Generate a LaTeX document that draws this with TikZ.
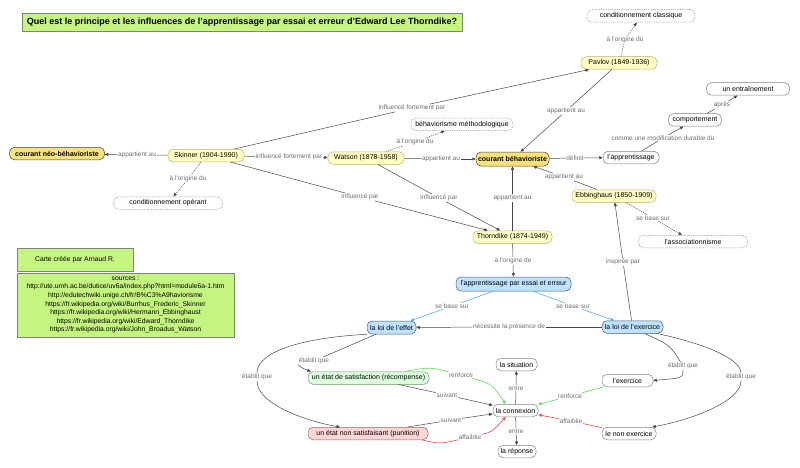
\documentclass[tikz,border=0pt]{standalone}
\usepackage{fontspec}
\setmainfont{Liberation Sans}
\usetikzlibrary{arrows.meta}
\definecolor{titleG}{RGB}{196,245,128}
\definecolor{persY}{RGB}{255,255,196}
\definecolor{persB}{RGB}{185,175,120}
\definecolor{courY}{RGB}{250,226,122}
\definecolor{blueF}{RGB}{190,226,255}
\definecolor{blueB}{RGB}{70,90,110}
\definecolor{greenF}{RGB}{224,255,224}
\definecolor{pinkF}{RGB}{255,214,214}
\definecolor{linkC}{RGB}{70,70,70}
\definecolor{lblC}{RGB}{110,110,110}
\definecolor{blueL}{RGB}{80,175,250}
\definecolor{greenL}{RGB}{90,220,90}
\definecolor{redL}{RGB}{240,70,70}
\tikzset{
  base/.style={draw=gray, rounded corners=5pt, font=\fontsize{7}{8}\selectfont,
    inner xsep=2pt, inner ysep=1pt, minimum height=12.5pt, text=black, line width=0.5pt},
  person/.style={base, fill=persY, draw=persB},
  courant/.style={base, fill=courY, draw=black!75, font=\fontsize{7}{8}\selectfont\bfseries},
  concept/.style={base, fill=white, draw=gray},
  dotbox/.style={base, fill=white, draw=gray, dash pattern=on 0.8pt off 1pt},
  bluebox/.style={base, fill=blueF, draw=blueB},
  greenbox/.style={base, fill=greenF, draw=gray!80!green},
  pinkbox/.style={base, fill=pinkF, draw=gray!80!red},
  infobox/.style={draw=gray, fill=titleG, font=\fontsize{6.8}{8.6}\selectfont, align=center, inner sep=1pt},
  lbl/.style={font=\fontsize{6.5}{7}\selectfont, text=lblC, fill=white, inner sep=0.6pt},
  link/.style={draw=linkC, line width=0.5pt},
  arr/.style={link, -{Triangle[width=3pt,length=3.5pt]}},
  dlink/.style={link, dash pattern=on 1pt off 1pt},
  darr/.style={arr, dash pattern=on 1pt off 1pt},
  blink/.style={draw=blueL, line width=0.6pt},
  barr/.style={blink, -{Triangle[width=3pt,length=3.5pt]}},
  glink/.style={draw=greenL, line width=0.6pt},
  garr/.style={glink, -{Triangle[width=3pt,length=3.5pt]}},
  rlink/.style={draw=redL, line width=0.6pt},
  rarr/.style={rlink, -{Triangle[width=3pt,length=3.5pt]}},
}
\begin{document}
\begin{tikzpicture}[x=1pt,y=-1pt]
\useasboundingbox (0,0) rectangle (800,468);
% title and info boxes
\node[infobox, font=\fontsize{9}{10}\selectfont\bfseries, minimum width=440pt, minimum height=18pt] (title) at (242,22)
  {Quel est le principe et les influences de l'apprentissage par essai et erreur d'Edward Lee Thorndike?};
\node[infobox, minimum width=116pt, minimum height=23pt] (carte) at (75,260) {Carte créée par Arnaud R.};
\node[infobox, minimum width=217pt, minimum height=64pt] (sources) at (125.5,305) {sources :\\
http://ute.umh.ac.be/dutice/uv6a/index.php?html=module6a-1.htm\\
http://edutechwiki.unige.ch/fr/B\%C3\%A9haviorisme\\
https://fr.wikipedia.org/wiki/Burrhus\_Frederic\_Skinner\\
https://fr.wikipedia.org/wiki/Hermann\_Ebbinghaust\\
https://fr.wikipedia.org/wiki/Edward\_Thorndike\\
https://fr.wikipedia.org/wiki/John\_Broadus\_Watson};
% concept nodes
\node[dotbox, minimum width=108pt] (condclass) at (641,16) {conditionnement classique};
\node[person, minimum width=76pt] (pavlov) at (619,63) {Pavlov (1849-1936)};
\node[concept, minimum width=83pt] (entrain) at (748,89) {un entraînement};
\node[concept, minimum width=53pt] (comport) at (695,120) {comportement};
\node[concept, minimum width=56pt] (apprent) at (631,157.5) {l'apprentissage};
\node[person, minimum width=84pt] (ebbing) at (614,196) {Ebbinghaus (1850-1909)};
\node[dotbox, minimum width=109pt] (assoc) at (693,241.5) {l'associationnisme};
\node[courant, minimum width=95pt] (neo) at (57,153.5) {courant néo-béhavioriste};
\node[person, minimum width=76pt] (skinner) at (206,155.5) {Skinner (1904-1990)};
\node[dotbox, minimum width=109pt] (condop) at (168,203) {conditionnement opérant};
\node[dotbox, minimum width=102pt] (behmeth) at (462,124.5) {béhaviorisme méthodologique};
\node[person, minimum width=76pt] (watson) at (366,158) {Watson (1878-1958)};
\node[courant, minimum width=73pt, minimum height=14pt] (courbeh) at (512.5,159) {courant béhavioriste};
\node[person, minimum width=79pt] (thorn) at (512.5,237) {Thorndike (1874-1949)};
\node[bluebox, minimum width=115pt, minimum height=14pt] (essai) at (513.5,284) {l'apprentissage par essai et erreur};
\node[bluebox, minimum width=49pt, minimum height=13pt] (effet) at (391.5,327.5) {la loi de l'effet};
\node[bluebox, minimum width=61pt] (exerc) at (632.5,327) {la loi de l'exercice};
\node[concept, minimum width=51pt] (lexerc) at (627.5,380.5) {l'exercice};
\node[concept, minimum width=54pt] (nonexerc) at (629,433.5) {le non exercice};
\node[greenbox, minimum width=121pt] (satisf) at (368.5,378) {un état de satisfaction (récompense)};
\node[concept, minimum width=41pt] (situation) at (516.5,364.5) {la situation};
\node[concept, minimum width=45pt] (connexion) at (515.5,410.5) {la connexion};
\node[pinkbox, minimum width=120pt] (nonsatisf) at (368,433.5) {un état non satisfaisant (punition)};
\node[concept, minimum width=38pt] (reponse) at (517,451.5) {la réponse};
% linking phrases
\node[lbl] (l1) at (625,40) {à l'origine du};
\node[lbl] (l2) at (412,108) {influencé fortement par};
\node[lbl] (l3) at (566,111) {appartient au};
\node[lbl] (l4) at (722,105) {après};
\node[lbl] (l5) at (663,138) {comme une modification durable du};
\node[lbl] (l6) at (575,158) {définit};
\node[lbl] (l7) at (564,177) {appartient au};
\node[lbl] (l8) at (653,218) {se base sur};
\node[lbl] (l9) at (137,155) {appartient au};
\node[lbl] (l10) at (188,179) {à l'origine du};
\node[lbl] (l11) at (289,157) {influencé fortement par};
\node[lbl] (l12) at (415,142) {à l'origine du};
\node[lbl] (l13) at (441,159) {appartient au};
\node[lbl] (l14) at (360,197) {influencé par};
\node[lbl] (l15) at (439,198) {influencé par};
\node[lbl] (l16) at (512.5,198) {appartient au};
\node[lbl] (l17) at (513,261) {à l'origine de};
\node[lbl] (l18) at (452,306) {se base sur};
\node[lbl] (l19) at (573,306) {se base sur};
\node[lbl] (l20) at (509,327) {nécessite la présence de};
\node[lbl] (l21) at (623,262) {inspirée par};
\node[lbl] (l22) at (314,361) {établit que};
\node[lbl] (l23) at (257,377) {établit que};
\node[lbl] (l24) at (447,395) {suivant};
\node[lbl] (l25) at (451,420) {suivant};
\node[lbl] (l26) at (461,375) {renforce};
\node[lbl] (l27) at (470,437) {affaiblie};
\node[lbl] (l28) at (570,396) {renforce};
\node[lbl] (l29) at (571,421) {affaiblie};
\node[lbl] (l30) at (516,388) {entre};
\node[lbl] (l31) at (516,431) {entre};
\node[lbl] (l32) at (683,366) {établit que};
\node[lbl] (l33) at (741,377) {établit que};
% connectors
\draw[dlink] (pavlov) -- (l1); \draw[darr] (l1) -- (condclass);
\draw[link] (skinner) -- (l2); \draw[arr] (l2) -- (pavlov);
\draw[link] (pavlov) -- (l3); \draw[arr] (l3) -- (courbeh);
\draw[link] (comport) -- (l4); \draw[arr] (l4) -- (entrain);
\draw[link] (apprent) -- (l5); \draw[arr] (l5) -- (comport);
\draw[link] (courbeh) -- (l6); \draw[arr] (l6) -- (apprent);
\draw[link] (ebbing) -- (l7); \draw[arr] (l7) -- (courbeh);
\draw[dlink] (ebbing) -- (l8); \draw[darr] (l8) -- (assoc);
\draw[link] (skinner) -- (l9); \draw[arr] (l9) -- (neo);
\draw[dlink] (skinner) -- (l10); \draw[darr] (l10) -- (condop);
\draw[link] (skinner) -- (l11); \draw[arr] (l11) -- (watson);
\draw[dlink] (watson) -- (l12); \draw[darr] (l12) -- (behmeth);
\draw[link] (watson) -- (l13); \draw[arr] (l13) -- (courbeh);
\draw[link] (skinner) -- (l14); \draw[arr] (l14) -- (thorn);
\draw[link] (watson) -- (l15); \draw[arr] (l15) -- (thorn);
\draw[link] (thorn) -- (l16); \draw[arr] (l16) -- (courbeh);
\draw[link] (thorn) -- (l17); \draw[arr] (l17) -- (essai);
\draw[blink] (essai) -- (l18); \draw[barr] (l18) -- (effet);
\draw[blink] (essai) -- (l19); \draw[barr] (l19) -- (exerc);
\draw[link] (exerc) -- (l20); \draw[arr] (l20) -- (effet);
\draw[link] (exerc) -- (l21); \draw[arr] (l21) -- (ebbing);
\draw[link] (effet) -- (l22); \draw[arr] (l22.south west) .. controls (302,368) .. ([xshift=3pt]satisf.north west);
\draw[link] (effet.south west) .. controls (300,338) and (257,352) .. (l23);
\draw[arr] (l23) .. controls (257,405) and (310,422) .. ([xshift=-28pt]nonsatisf.north);
\draw[link] (satisf) -- (l24); \draw[arr] (l24) -- (connexion);
\draw[link] (nonsatisf) -- (l25); \draw[arr] (l25) -- (connexion);
\draw[glink] ([xshift=-25pt]satisf.north east) .. controls (430,367) .. (l26);
\draw[garr] (l26) .. controls (492,384) .. ([xshift=13pt]connexion.north west);
\draw[rlink] ([xshift=-6pt]nonsatisf.south east) .. controls (440,444) .. (l27);
\draw[rarr] (l27) .. controls (492,432) .. ([xshift=13pt]connexion.south west);
\draw[glink] (lexerc) -- (l28); \draw[garr] (l28) -- (connexion);
\draw[rlink] (nonexerc) -- (l29); \draw[rarr] (l29) -- (connexion);
\draw[link] (connexion) -- (l30); \draw[arr] (l30) -- (situation);
\draw[link] (connexion) -- (l31); \draw[arr] (l31) -- (reponse);
\draw[link] ([xshift=12pt]exerc.south) .. controls (670,345) .. (l32);
\draw[arr] (l32) .. controls (683,378) .. (lexerc.east);
\draw[link] ([xshift=-6pt]exerc.south east) .. controls (710,345) and (741,360) .. (l33);
\draw[arr] (l33) .. controls (741,402) and (690,420) .. ([xshift=-4pt]nonexerc.north east);
\end{tikzpicture}
\end{document}
